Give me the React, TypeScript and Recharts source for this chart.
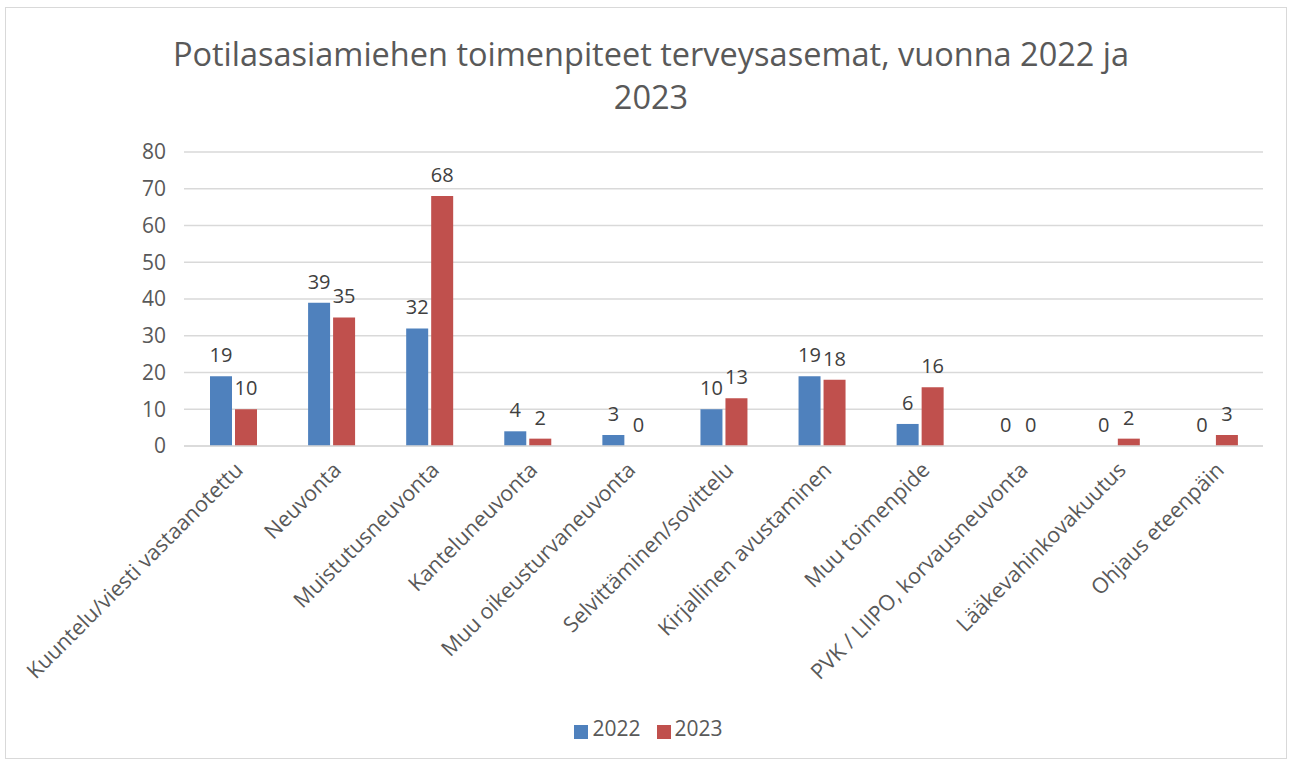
import { Bar, BarChart, CartesianGrid, LabelList, Legend, XAxis, YAxis } from "recharts";

const categories = [
  "Kuuntelu/viesti vastaanotettu",
  "Neuvonta",
  "Muistutusneuvonta",
  "Kanteluneuvonta",
  "Muu oikeusturvaneuvonta",
  "Selvittäminen/sovittelu",
  "Kirjallinen avustaminen",
  "Muu toimenpide",
  "PVK / LIIPO, korvausneuvonta",
  "Lääkevahinkovakuutus",
  "Ohjaus eteenpäin",
];
const values2022 = [19, 39, 32, 4, 3, 10, 19, 6, 0, 0, 0];
const values2023 = [10, 35, 68, 2, 0, 13, 18, 16, 0, 2, 3];
const yTicks = [0, 10, 20, 30, 40, 50, 60, 70, 80];

const data = categories.map((name, i) => ({
  name,
  y2022: values2022[i],
  y2023: values2023[i],
}));

const FONT = "'Open Sans', sans-serif";
const TEXT = "#595959";

function XTick(props: any) {
  const { x, y, payload } = props;
  return (
    <g transform={`translate(${x + 6},${y + 12})`}>
      <text
        transform="rotate(-45)"
        textAnchor="end"
        dy="0.35em"
        fill={TEXT}
        fontSize={21.5}
        fontFamily={FONT}
      >
        {payload.value}
      </text>
    </g>
  );
}

// draws the value above a bar, also for zero-height bars
function BarValue(props: any) {
  const { x, y, width, value } = props;
  return (
    <text
      x={Number(x) + Number(width) / 2}
      y={Number(y) - 14}
      textAnchor="middle"
      fill="#404040"
      fontSize={20}
      fontFamily={FONT}
    >
      {String(value)}
    </text>
  );
}

export default function App() {
  return (
    <div
      style={{
        position: "absolute",
        left: 5,
        top: 7,
        width: 1280,
        height: 750,
        border: "1px solid #d9d9d9",
        background: "#fff",
        fontFamily: FONT,
      }}
    >
      <div
        style={{
          position: "absolute",
          top: 24,
          left: 0,
          width: 1290,
          textAlign: "center",
          fontSize: 32.5,
          lineHeight: "43px",
          color: TEXT,
        }}
      >
        Potilasasiamiehen toimenpiteet terveysasemat, vuonna 2022 ja
        <br />
        2023
      </div>
      <BarChart
        width={1280}
        height={750}
        data={data}
        margin={{ top: 144, right: 23, left: 0, bottom: 16 }}
        barSize={22}
        barGap={3}
      >
        <CartesianGrid vertical={false} stroke="#d9d9d9" strokeWidth={1.5} />
        <XAxis
          dataKey="name"
          interval={0}
          height={268}
          tick={<XTick />}
          tickLine={false}
          axisLine={{ stroke: "#d9d9d9", strokeWidth: 1.5 }}
        />
        <YAxis
          width={178}
          domain={[0, 80]}
          ticks={yTicks}
          tickLine={false}
          axisLine={false}
          tickSize={0}
          tickMargin={18}
          tick={{ fill: TEXT, fontSize: 21, fontFamily: FONT }}
        />
        <Legend
          verticalAlign="bottom"
          iconType="square"
          iconSize={14}
          wrapperStyle={{ left: 22 }}
          formatter={(v: string) => (
            <span style={{ color: TEXT, fontSize: 21, fontFamily: FONT, paddingRight: 6 }}>
              {v}
            </span>
          )}
        />
        <Bar
          dataKey="y2022"
          name="2022"
          fill="#4f81bd"
          minPointSize={0.01}
          isAnimationActive={false}
        >
          <LabelList dataKey="y2022" content={<BarValue />} />
        </Bar>
        <Bar
          dataKey="y2023"
          name="2023"
          fill="#c0504d"
          minPointSize={0.01}
          isAnimationActive={false}
        >
          <LabelList dataKey="y2023" content={<BarValue />} />
        </Bar>
      </BarChart>
    </div>
  );
}
